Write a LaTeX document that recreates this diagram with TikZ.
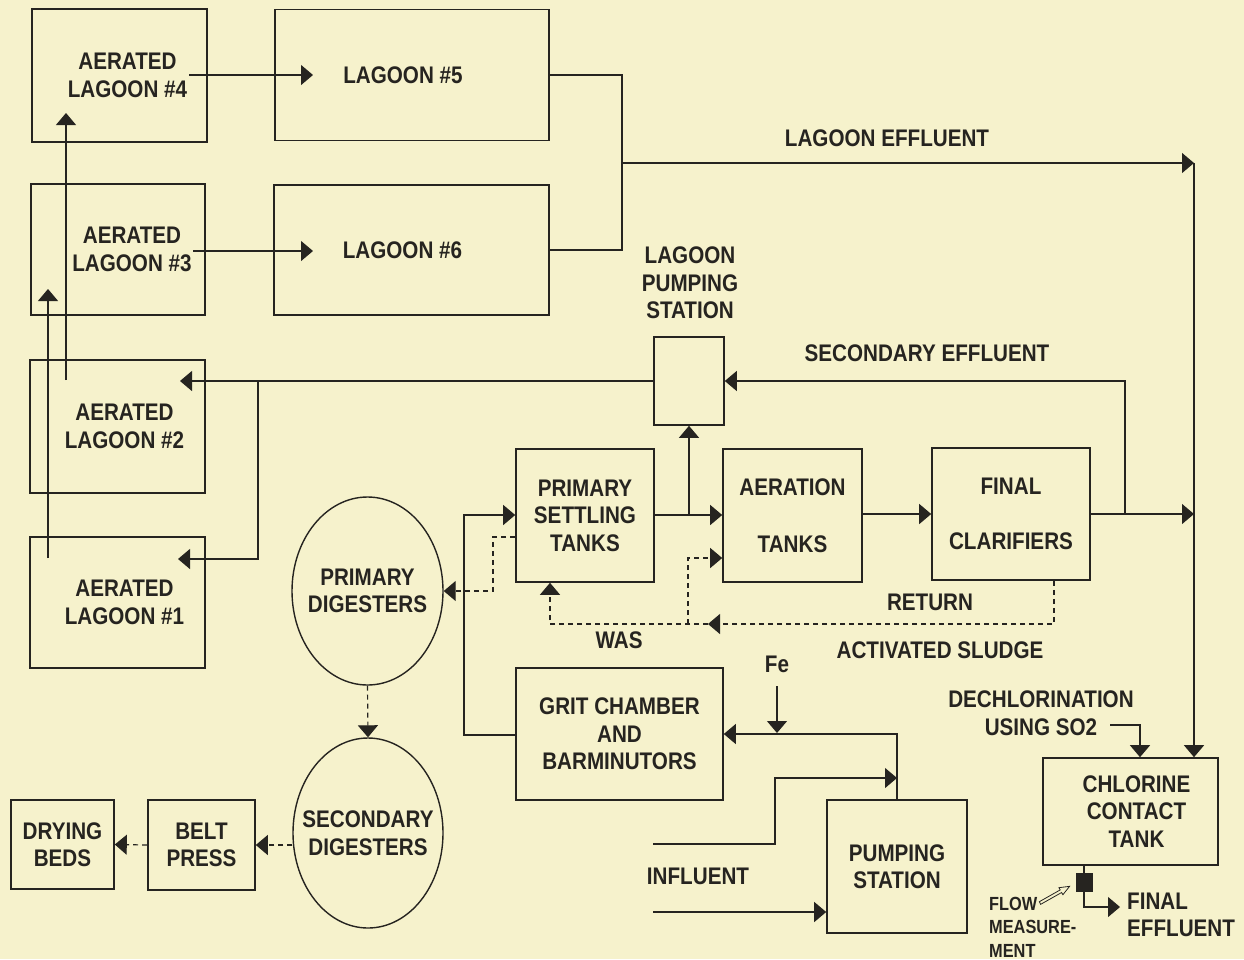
\documentclass[tikz,border=0pt]{standalone}
\usepackage{fontspec}
\setmainfont{Liberation Sans}[FakeStretch=0.86]
\usetikzlibrary{arrows.meta,shapes.geometric}
\definecolor{bg}{RGB}{246,242,204}
\definecolor{ink}{RGB}{38,36,32}
\begin{document}
\begin{tikzpicture}[x=1pt,y=-1pt,
  every node/.style={text=ink, font=\fontsize{24}{27.5}\selectfont\bfseries, align=center, inner sep=0pt},
  box/.style={draw=ink, line width=1.6pt},
  oval/.style={draw=ink, line width=1.4pt, ellipse},
  tip/.style={-{Triangle[length=12pt,width=20pt]}},
  conn/.style={draw=ink, line width=1.2pt},
  flow/.style={conn, tip},
  dflow/.style={conn, dash pattern=on 5pt off 4pt, tip},
  dline/.style={conn, dash pattern=on 5pt off 4pt},
  small/.style={font=\fontsize{19}{23.5}\selectfont\bfseries}
]
\path[use as bounding box, fill=bg] (0,0) rectangle (1244,959);

% boxes
\node[box, minimum width=175pt, minimum height=133pt, label={[xshift=8pt]center:{AERATED\\LAGOON \#4}}] (al4) at (119.5,75.5) {};
\node[box, minimum width=274pt, minimum height=131pt, label={[xshift=-9pt]center:{LAGOON \#5}}] (l5) at (412,75) {};
\node[box, minimum width=174pt, minimum height=131pt, label={[xshift=14pt]center:{AERATED\\LAGOON \#3}}] (al3) at (118,249.5) {};
\node[box, minimum width=275pt, minimum height=130pt, label={[xshift=-9pt]center:{LAGOON \#6}}] (l6) at (411.5,250) {};
\node[box, minimum width=175pt, minimum height=133pt, label={[xshift=7pt]center:{AERATED\\LAGOON \#2}}] (al2) at (117.5,426.5) {};
\node[box, minimum width=175pt, minimum height=131pt, label={[xshift=7pt]center:{AERATED\\LAGOON \#1}}] (al1) at (117.5,602.5) {};
\node[box, minimum width=70pt, minimum height=88pt] (lps) at (689,381) {};
\node (lpsl) at (690,283) {LAGOON\\PUMPING\\STATION};
\node[box, minimum width=138pt, minimum height=133pt] (pst) at (585,515.5) {PRIMARY\\SETTLING\\TANKS};
\node[box, minimum width=139pt, minimum height=133pt] (at) at (792.5,515.5) {AERATION\\[29pt]TANKS};
\node[box, minimum width=158pt, minimum height=132pt] (fc) at (1011,514) {FINAL\\[28pt]CLARIFIERS};
\node[oval, minimum width=151pt, minimum height=188pt, label={center:{PRIMARY\\DIGESTERS}}] (pd) at (367.5,591) {};
\node[oval, minimum width=150pt, minimum height=190pt, label={center:{SECONDARY\\DIGESTERS}}] (sd) at (368,833) {};
\node[box, minimum width=107pt, minimum height=90pt] (bp) at (201.5,845) {BELT\\PRESS};
\node[box, minimum width=103pt, minimum height=89pt] (db) at (62.5,844.5) {DRYING\\BEDS};
\node[box, minimum width=207pt, minimum height=132pt] (gc) at (619.5,734) {GRIT CHAMBER\\AND\\BARMINUTORS};
\node[box, minimum width=140pt, minimum height=133pt] (ps) at (897,866.5) {PUMPING\\STATION};
\node[box, minimum width=175pt, minimum height=107pt, label={[xshift=6pt]center:{CHLORINE\\CONTACT\\TANK}}] (cct) at (1130.5,811.5) {};
\node[draw=ink, fill=ink, minimum width=16pt, minimum height=18pt] (fm) at (1084,882) {};

% labels
\node (le) at (887,138) {LAGOON EFFLUENT};
\node (se) at (927,353) {SECONDARY EFFLUENT};
\node (ret) at (930,602) {RETURN};
\node (asl) at (940,650) {ACTIVATED SLUDGE};
\node (was) at (619,640) {WAS};
\node (fe) at (777,664) {Fe};
\node (inf) at (698,876) {INFLUENT};
\node (dech) at (1041,713) {DECHLORINATION\\USING SO2};
\node[anchor=west, align=left] (fe2) at (1127,915) {FINAL\\EFFLUENT};
\node[small, anchor=west, align=left] (fml) at (989,927) {FLOW\\MEASURE-\\MENT};

% coordinates
\coordinate (c4a) at (189,75);   \coordinate (c5a) at (313,75);
\coordinate (c3a) at (193,251);  \coordinate (c6a) at (313,251);
\coordinate (jl) at (622,75);    \coordinate (jl2) at (622,250);
\coordinate (jle) at (622,163);  \coordinate (cre) at (1194,163);
\coordinate (cfe) at (1194,514); \coordinate (jse) at (1125,514);
\coordinate (jlp) at (258,381);  \coordinate (a2t) at (180,381);
\coordinate (a1t) at (178,559);
\coordinate (u1s) at (48,558);   \coordinate (u1t) at (48,289);
\coordinate (u2s) at (66,380);   \coordinate (u2t) at (66,113);
\coordinate (jpa) at (689,515);
\coordinate (rs) at (1054,624);  \coordinate (rm) at (708,624);
\coordinate (rw) at (550,624);   \coordinate (ra) at (688,624);
\coordinate (gcl) at (464,735);
\coordinate (fes) at (777,686);  \coordinate (fet) at (777,733);
\coordinate (psg) at (897,734);
\coordinate (in1) at (653,844);  \coordinate (in1b) at (775,778);
\coordinate (in1t) at (897,778);
\coordinate (in2) at (653,912);
\coordinate (dcs) at (1110,725); \coordinate (dct) at (1140,725);
\coordinate (fmo) at (1120,907);

% lagoon flows
\draw[flow] (c4a) -- (c5a);
\draw[flow] (c3a) -- (c6a);
\draw[conn] (l5.east |- jl) -- (jl) -- (jl2) -- (l6.east |- jl2);
\draw[flow] (jle) -- (cre);
\draw[flow] (cre) -- (cct.north -| cre);
\draw[flow] (u1s) -- (u1t);
\draw[flow] (u2s) -- (u2t);
\draw[flow] (lps.west |- jlp) -- (a2t);
\draw[flow] (jlp) |- (a1t);

% main train
\draw[flow] (pst.east |- jpa) -- (at.west |- jpa);
\draw[flow] (jpa) -- (lps.south);
\draw[flow] (at.east |- fc.west) -- (fc.west);
\draw[flow] (fc.east) -- (cfe);
\draw[flow] (jse) |- (lps.east);
\draw[flow] (gc.west |- gcl) -- (gcl) |- (pst.west |- jpa);

% return / was (dashed)
\draw[dflow] (fc.south -| rs) -- (rs) -- (rm);
\draw[dflow] (rm) -- (rw) -- (pst.south -| rw);
\draw[dflow] (ra) -- (688,558) -- (at.west |- 0,558);
\draw[dflow] (pst.west |- 0,537) -- (493,537) -- (493,591) -- (pd.east);
\draw[dflow] (pd.south) -- (sd.north);
\draw[dflow] (sd.west |- bp.east) -- (bp.east);
\draw[dflow] (bp.west) -- (db.east);

% influent / grit
\draw[flow] (fes) -- (fet);
\draw[flow] (ps.north -| psg) -- (psg) -- (gc.east |- psg);
\draw[flow] (in1) -- (775,844) -- (in1b) -- (in1t);
\draw[flow] (in2) -- (ps.west |- in2);

% chlorination
\draw[flow] (dcs) -- (dct) -- (cct.north -| dct);
\draw[conn] (cct.south -| fm) -- (fm.north);
\draw[flow] (fm.south) -- (1084,907) -- (fmo);
\draw[draw=ink, line width=0.8pt, fill=bg] (1040.7,904.3) -- (1061.6,892.5) -- (1062.9,894.7) -- (1069.6,886.3) -- (1058.9,887.7) -- (1060.2,889.9) -- (1039.3,901.7) -- cycle;
\end{tikzpicture}
\end{document}
